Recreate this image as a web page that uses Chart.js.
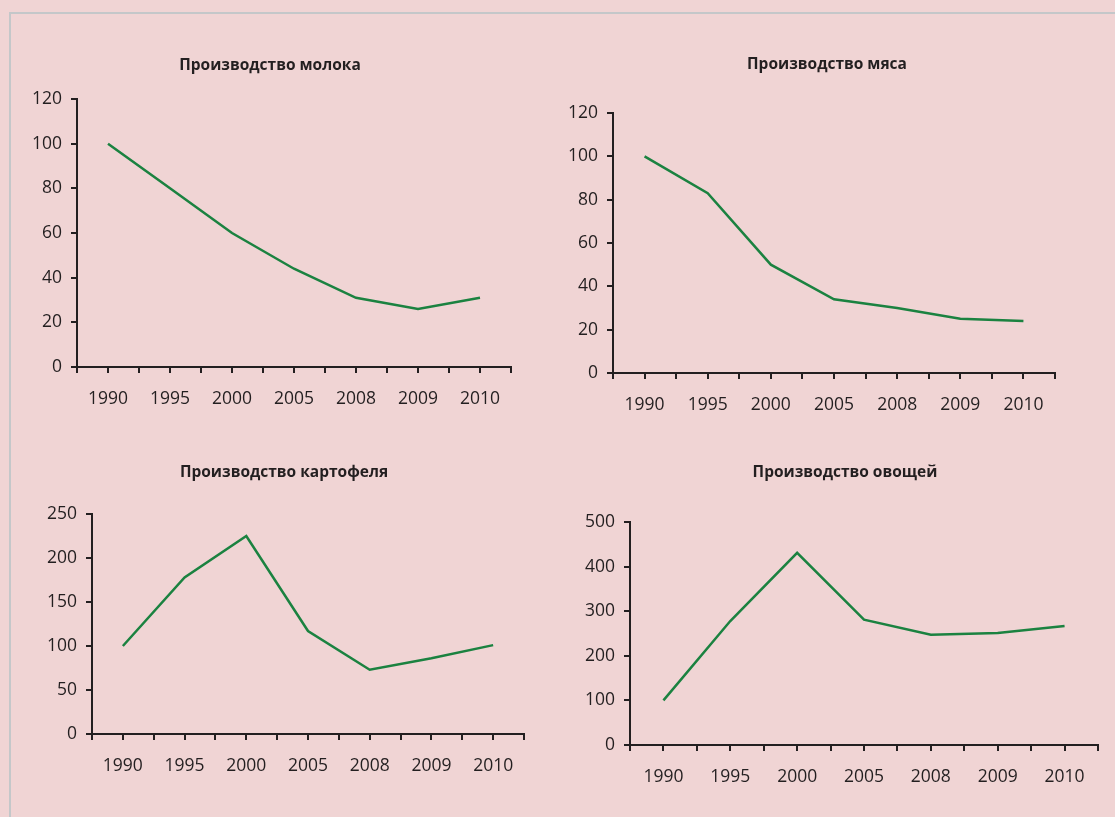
<!DOCTYPE html>
<html><head><meta charset="utf-8">
<script src="https://cdn.jsdelivr.net/npm/chart.js@4/dist/chart.umd.min.js"></script>
<style>
html,body{margin:0;padding:0;width:1115px;height:817px;overflow:hidden;background:#f0d4d4;}
#frame{position:absolute;left:9px;top:12px;width:1300px;height:1000px;border-left:2px solid #c4c7c9;border-top:2px solid #c4c7c9;}
.box{position:absolute;}
canvas{display:block;}
</style></head><body>
<div id="frame"></div>
<div class="box" id="b0"><canvas id="c0"></canvas></div>
<div class="box" id="b1"><canvas id="c1"></canvas></div>
<div class="box" id="b2"><canvas id="c2"></canvas></div>
<div class="box" id="b3"><canvas id="c3"></canvas></div>
<script>
// ---- data ----
const years = ['1990', '1995', '2000', '2005', '2008', '2009', '2010'];
const milk = [100, 80, 60, 44, 31, 26, 31];
const meat = [100, 83, 50, 34, 30, 25, 24];
const potato = [100, 178, 225, 117, 73, 86, 101];
const vegetables = [100, 278, 431, 281, 247, 251, 267];
const titles = ['Производство молока', 'Производство мяса', 'Производство картофеля', 'Производство овощей'];
const yMaxes = [120, 120, 250, 500];
const ySteps = [20, 20, 50, 100];
const seriesList = [milk, meat, potato, vegetables];

// ---- layout (pixel geometry of each panel) ----
const layout = [
  {xL: 77, xR: 522, yTop: 99, yBot: 367, cx: 270, cy: 65},
  {xL: 613, xR: 1055, yTop: 113, yBot: 373, cx: 827, cy: 64},
  {xL: 92, xR: 537, yTop: 514, yBot: 734, cx: 284, cy: 472},
  {xL: 630, xR: 1098, yTop: 522, yBot: 745, cx: 845, cy: 472}
];
const Y_W = 64, X_H = 52, TITLE_FS = 15.5, TITLE_LH = 1.2, TICK_FS = 17.5;
const INK = '#231f20', GREEN = '#1b8240';

Chart.defaults.font.family = "'Open Sans', sans-serif";
Chart.defaults.color = INK;

seriesList.forEach((series, i) => {
  const g = layout[i];
  const L = g.xL - Y_W;
  const W = Math.round(2 * (g.cx - L));
  const rW = Math.max(0, L + W - g.xR);
  const tH = TITLE_FS * TITLE_LH;
  const T = Math.round(g.cy - tH / 2);
  const padB = g.yTop - T - tH;
  const H = Math.round(g.yBot - T + X_H);
  const box = document.getElementById('b' + i);
  box.style.left = L + 'px'; box.style.top = T + 'px';
  box.style.width = W + 'px'; box.style.height = H + 'px';
  const cv = document.getElementById('c' + i);
  cv.width = W; cv.height = H;

  new Chart(cv, {
    type: 'line',
    data: {
      datasets: [{
        data: series.map((v, k) => ({x: k, y: v})),
        borderColor: GREEN,
        borderWidth: 2.5,
        pointRadius: 0,
        fill: false,
        tension: 0
      }]
    },
    options: {
      responsive: false,
      animation: false,
      layout: {padding: 0},
      plugins: {
        legend: {display: false},
        tooltip: {enabled: false},
        title: {
          display: true,
          text: titles[i],
          color: INK,
          font: {size: TITLE_FS, weight: 'bold', lineHeight: TITLE_LH},
          padding: {top: 0, bottom: padB}
        }
      },
      scales: {
        x: {
          type: 'linear',
          position: 'bottom',
          min: -0.5,
          max: 6.5,
          afterFit: s => { s.height = X_H; },
          ticks: {
            stepSize: 0.5,
            autoSkip: false,
            maxRotation: 0,
            padding: 16,
            color: INK,
            font: {size: TICK_FS},
            callback: v => (Math.abs(v - Math.round(v)) < 1e-6 && years[Math.round(v)] !== undefined) ? years[Math.round(v)] : ''
          },
          grid: {drawOnChartArea: false, drawTicks: true, tickLength: 6, color: INK, lineWidth: 2},
          border: {display: true, color: INK, width: 2}
        },
        y: {
          min: 0,
          max: yMaxes[i],
          afterFit: s => { s.width = Y_W; },
          ticks: {stepSize: ySteps[i], padding: 9, color: INK, font: {size: TICK_FS}},
          grid: {drawOnChartArea: false, drawTicks: true, tickLength: 6, color: INK, lineWidth: 2},
          border: {display: true, color: INK, width: 2}
        },
        yR: {
          position: 'right',
          display: true,
          afterFit: s => { s.width = rW; },
          ticks: {display: false},
          grid: {display: false},
          border: {display: false}
        }
      }
    }
  });
});
</script>
</body></html>
